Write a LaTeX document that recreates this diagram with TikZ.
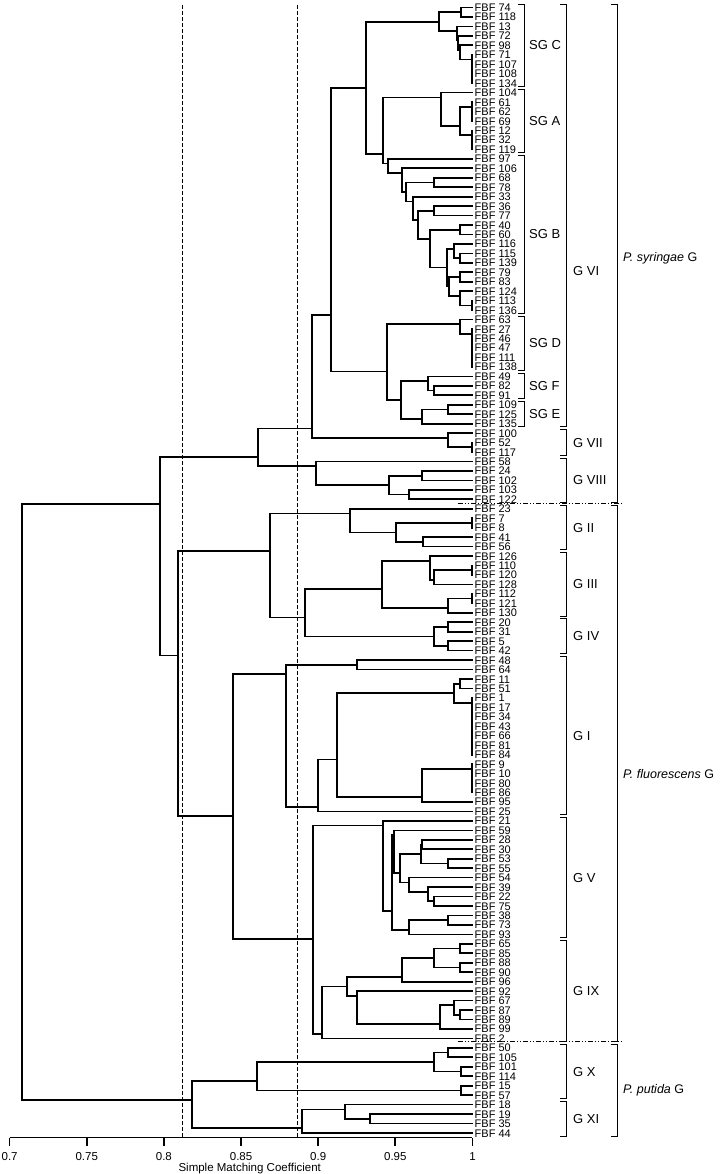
\documentclass[tikz,border=0pt]{standalone}
\usepackage{fontspec}
\setmainfont{Liberation Sans}
\newcommand\nd[5]{%
  \coordinate (#1) at (#4,#5+0.5);
  \draw[br] (#2) -| (#1) |- (#3);}
\newcommand\brk[3]{\draw[bk] (#1-7,#2-0.35) -- (#1,#2-0.35) -- (#1,#3+0.35) -- (#1-7,#3+0.35);}
\begin{document}
\begin{tikzpicture}[x=1pt,y=-9.458pt,
  br/.style={line width=1.7pt},
  leaf/.style={anchor=west,inner sep=0pt,text height=8pt,text depth=0pt,font=\fontsize{11}{11}\selectfont},
  bk/.style={line width=1pt},
  grp/.style={anchor=west,inner sep=0pt,font=\fontsize{13}{13}\selectfont},
  dsh/.style={line width=1.2pt,dash pattern=on 4pt off 2pt},
  ddot/.style={line width=0.9pt,dash pattern=on 5pt off 2pt on 1pt off 2pt on 1pt off 2pt},
  ax/.style={line width=1.7pt},
  tick/.style={font=\fontsize{11.5}{11.5}\selectfont,inner sep=0pt}]
\useasboundingbox (0,0.207) rectangle (720,124.336);
% leaves
\foreach \i/\t in {1/74,2/118,3/13,4/72,5/98,6/71,7/107,8/108,9/134,10/104,11/61,12/62,13/69,14/12,15/32,16/119,17/97,18/106,19/68,20/78,21/33,22/36,23/77,24/40,25/60,26/116,27/115,28/139,29/79,30/83,31/124,32/113,33/136,34/63,35/27,36/46,37/47,38/111,39/138,40/49,41/82,42/91,43/109,44/125,45/135,46/100,47/52,48/117,49/58,50/24,51/102,52/103,53/122,54/23,55/7,56/8,57/41,58/56,59/126,60/110,61/120,62/128,63/112,64/121,65/130,66/20,67/31,68/5,69/42,70/48,71/64,72/11,73/51,74/1,75/17,76/34,77/43,78/66,79/81,80/84,81/9,82/10,83/80,84/86,85/95,86/25,87/21,88/59,89/28,90/30,91/53,92/55,93/54,94/39,95/22,96/75,97/38,98/73,99/93,100/65,101/85,102/88,103/90,104/96,105/92,106/67,107/87,108/89,109/99,110/2,111/50,112/105,113/101,114/114,115/15,116/57,117/18,118/19,119/35,120/44}{
  \coordinate (L\i) at (473,\i);
  \node[leaf] (t\i) at (474.5,\i) {FBF \t};
}
% SG C
\nd{a1}{L1}{L2}{461}{1}
\nd{z8}{L8}{L9}{472}{8}
\nd{z7}{L7}{z8}{472}{7}
\nd{z6}{L6}{z7}{472}{6}
\nd{a2}{L5}{z6}{460}{5}
\nd{a3}{L4}{a2}{458.3}{4}
\nd{a4}{L3}{a3}{456.7}{3}
\nd{a5}{a1}{a4}{439.3}{2}
% SG A
\nd{b0}{L12}{L13}{472}{12}
\nd{b1}{L11}{b0}{472}{11}
\nd{b5}{L15}{L16}{472}{15}
\nd{b2}{L14}{b5}{472}{14}
\nd{b3}{b1}{b2}{460}{13}
\nd{b4}{L10}{b3}{441}{10}
% SG B
\nd{c1}{L19}{L20}{434.3}{19}
\nd{c2}{L22}{L23}{434.3}{22}
\nd{c3}{L24}{L25}{460}{24}
\nd{c4}{L27}{L28}{460}{27}
\nd{c5}{L26}{c4}{454.3}{26}
\nd{c6}{L29}{L30}{460}{29}
\nd{c7}{L32}{L33}{472}{32}
\nd{c8}{L31}{c7}{460}{31}
\nd{c9}{c6}{c8}{449.3}{30}
\nd{c10}{c5}{c9}{446.7}{28}
\nd{c11}{c3}{c10}{430}{25}
\nd{c12}{c2}{c11}{417.7}{23}
\nd{c13}{L21}{c12}{413.3}{21}
\nd{c14}{c1}{c13}{405.7}{20}
\nd{c15}{L18}{c14}{402.3}{18}
\nd{c16}{L17}{c15}{387.7}{17}
\nd{q}{b4}{c16}{383.3}{16}
\nd{n1}{a5}{q}{366}{9}
% SG D
\nd{d38}{L38}{L39}{472}{38}
\nd{d37}{L37}{d38}{472}{37}
\nd{d36}{L36}{d37}{472}{36}
\nd{d35}{L35}{d36}{472}{35}
\nd{d1}{L34}{d35}{460}{34}
% SG F, SG E
\nd{e1}{L41}{L42}{434.3}{41}
\nd{e2}{L40}{e1}{428.3}{40}
\nd{e3}{L43}{L44}{448.3}{43}
\nd{e4}{e3}{L45}{421.7}{44}
\nd{e5}{e2}{e4}{401}{42}
\nd{bb}{d1}{e5}{386.7}{39}
\nd{n2}{n1}{bb}{331}{33}
% G VII
\nd{f1}{L47}{L48}{472}{47}
\nd{g7}{L46}{f1}{448.3}{46}
\nd{n3}{n2}{g7}{311.7}{45}
% G VIII
\nd{g1}{L50}{L51}{421.7}{50}
\nd{g2}{L52}{L53}{409}{52}
\nd{g3}{g1}{g2}{389.3}{51}
\nd{g8}{L49}{g3}{316}{49}
\nd{n4}{n3}{g8}{258.3}{48}
% G II
\nd{i1}{L55}{L56}{472}{55}
\nd{i2}{L57}{L58}{423.3}{57}
\nd{i3}{i1}{i2}{396}{56}
\nd{gII}{L54}{i3}{350}{54}
% G III
\nd{j1}{L60}{L61}{472}{60}
\nd{j2}{j1}{L62}{434.3}{61}
\nd{j3}{L59}{j2}{430}{59}
\nd{j4}{L63}{L64}{472}{63}
\nd{j5}{j4}{L65}{448.3}{64}
\nd{j6}{j3}{j5}{381.7}{62}
% G IV
\nd{k1}{L66}{L67}{448.3}{66}
\nd{k2}{L68}{L69}{448.3}{68}
\nd{gIV}{k1}{k2}{434.3}{67}
\nd{p2}{j6}{gIV}{305}{65}
\nd{p1}{gII}{p2}{270}{58}
% G I
\nd{h1}{L70}{L71}{356.7}{70}
\nd{h2}{L72}{L73}{460}{72}
\nd{y79}{L79}{L80}{472}{79}
\nd{y78}{L78}{y79}{472}{78}
\nd{y77}{L77}{y78}{472}{77}
\nd{y76}{L76}{y77}{472}{76}
\nd{y75}{L75}{y76}{472}{75}
\nd{y74}{L74}{y75}{472}{74}
\nd{h3}{h2}{y74}{454.3}{73}
\nd{y83}{L83}{L84}{472}{83}
\nd{y82}{L82}{y83}{472}{82}
\nd{y81}{L81}{y82}{472}{81}
\nd{h4}{y81}{L85}{421.7}{84}
\nd{h5}{h3}{h4}{337.3}{80}
\nd{h6}{h5}{L86}{318.3}{85}
\nd{gI}{h1}{h6}{286}{71}
% G V
\nd{m1}{L89}{L90}{421.7}{89}
\nd{m2}{L91}{L92}{448.3}{91}
\nd{m3}{m1}{m2}{421}{90}
\nd{m5}{L95}{L96}{434.3}{95}
\nd{m4}{L94}{m5}{428.3}{94}
\nd{m6}{L93}{m4}{409}{93}
\nd{m7}{m3}{m6}{400}{92}
\nd{m8}{L88}{m7}{394.3}{88}
\nd{m9}{L97}{L98}{448.3}{97}
\nd{m10}{m9}{L99}{409}{98}
\nd{m11}{m8}{m10}{391.7}{96}
\nd{gV}{L87}{m11}{382.7}{87}
% G IX
\nd{r1}{L100}{L101}{460}{100}
\nd{r2}{L102}{L103}{460}{102}
\nd{r3}{r1}{r2}{434.3}{101}
\nd{r4}{r3}{L104}{402.3}{103}
\nd{r5}{L107}{L108}{460}{107}
\nd{r6}{L106}{r5}{454.3}{106}
\nd{r7}{r6}{L109}{440}{108}
\nd{r8}{L105}{r7}{357.3}{105}
\nd{r9}{r4}{r8}{346.7}{104}
\nd{gIX}{r9}{L110}{321.7}{109}
\nd{p3}{gV}{gIX}{313.3}{99}
\nd{p4}{gI}{p3}{233}{86}
\nd{pf}{p1}{p4}{178}{69}
\nd{n5}{n4}{pf}{160}{53}
% P. putida
\nd{s1}{L111}{L112}{447.7}{111}
\nd{s2}{L113}{L114}{460.7}{113}
\nd{s3}{s1}{s2}{434.3}{112}
\nd{s4}{L115}{L116}{460.7}{115}
\nd{gX}{s3}{s4}{256.9}{114}
\nd{s5}{L118}{L119}{370.3}{118}
\nd{s6}{L117}{s5}{344.7}{117}
\nd{gXI}{s6}{L120}{302.3}{119}
\nd{pp}{gX}{gXI}{191.8}{116}
\nd{root}{n5}{pp}{21.7}{110}
% cut-off lines
\draw[dsh] (182.5,0.74) -- (182.5,120.476);
\draw[dsh] (297.9,0.74) -- (297.9,120.476);
\draw[ddot] (458,53.4) -- (622,53.4);
\draw[ddot] (458,110.3) -- (622,110.3);
% brackets
\brk{525}{1}{9} \node[grp] (sgc) at (529,5) {SG C};
\brk{525}{10}{16} \node[grp] (sga) at (529,13) {SG A};
\brk{525}{17}{33} \node[grp] (sgb) at (529,25) {SG B};
\brk{525}{34}{39} \node[grp] (sgd) at (529,36.5) {SG D};
\brk{525}{40}{42} \node[grp] (sgf) at (529,41) {SG F};
\brk{525}{43}{45} \node[grp] (sge) at (529,44) {SG E};
\brk{567}{1}{45} \node[grp] (g6l) at (573,28.86) {G VI};
\brk{567}{46}{48} \node[grp] (g7l) at (573,47) {G VII};
\brk{567}{49}{53} \node[grp] (g8l) at (573,51) {G VIII};
\brk{567}{54}{58} \node[grp] (g2l) at (573,56) {G II};
\brk{567}{59}{65} \node[grp] (g3l) at (573,62) {G III};
\brk{567}{66}{69} \node[grp] (g4l) at (573,67.5) {G IV};
\brk{567}{70}{86} \node[grp] (g1l) at (573,78) {G I};
\brk{567}{87}{99} \node[grp] (g5l) at (573,93) {G V};
\brk{567}{100}{110} \node[grp] (g9l) at (573,105) {G IX};
\brk{567}{111}{116} \node[grp] (g10l) at (573,113.5) {G X};
\brk{567}{117}{120} \node[grp] (g11l) at (573,118.5) {G XI};
\brk{618}{1}{53} \node[grp,font=\fontsize{12.5}{12.5}\selectfont] (psy) at (623,27.5) {\textit{P. syringae} G};
\brk{618}{54}{110} \node[grp,font=\fontsize{12.5}{12.5}\selectfont] (pfl) at (623,82) {\textit{P. fluorescens} G};
\brk{618}{111}{120} \node[grp,font=\fontsize{12.5}{12.5}\selectfont] (ppu) at (623,115.5) {\textit{P. putida} G};
% axis
\draw[ax] (9.6,120.476) -- (472.5,120.476);
\foreach \k/\lab in {0/0.7,1/0.75,2/0.8,3/0.85,4/0.9,5/0.95,6/1}{
  \draw[ax] (9.6+\k*77.15,120.476) -- ++(0,0.85);
  \node[tick] (tk\k) at (9.6+\k*77.15,122.54) {\lab};
}
\node[tick] (axtitle) at (249.7,123.74) {Simple Matching Coefficient};
\end{tikzpicture}
\end{document}
